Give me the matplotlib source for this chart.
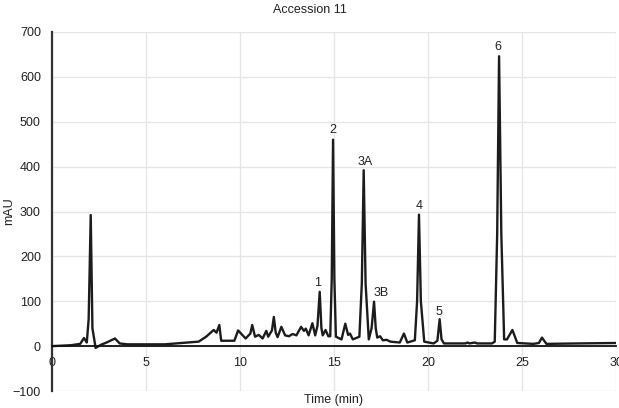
import matplotlib
matplotlib.use('Agg')
import matplotlib.pyplot as plt

plt.rcParams['font.family'] = ['Liberation Sans', 'DejaVu Sans']

# Chromatogram trace: time (min), signal (mAU)
time_min = [
    0.0, 1.0, 1.5, 1.70, 1.85, 1.95, 2.06, 2.15, 2.32, 2.6, 2.9, 3.35, 3.6, 4.0,
    6.0, 7.8, 8.2, 8.6, 8.75, 8.9, 9.0, 9.7, 9.9, 10.3, 10.55, 10.65, 10.8,
    11.0, 11.2, 11.4, 11.5, 11.7, 11.8, 11.9, 12.0, 12.2, 12.4, 12.6, 12.8,
    13.0, 13.25, 13.4, 13.5, 13.65, 13.85, 14.0, 14.12, 14.24, 14.33, 14.4,
    14.55, 14.7, 14.8, 14.88, 14.95, 15.02, 15.1, 15.4, 15.6, 15.75, 15.85,
    16.0, 16.35, 16.48, 16.58, 16.68, 16.85, 17.0, 17.13, 17.22, 17.3, 17.45,
    17.6, 17.8, 18.0, 18.5, 18.72, 18.9, 19.3, 19.42, 19.52, 19.62, 19.8,
    20.3, 20.5, 20.62, 20.72, 20.85, 22.0, 22.1, 22.2, 22.5, 22.6, 23.4,
    23.55, 23.68, 23.78, 23.9, 24.05, 24.2, 24.49, 24.75, 25.6, 25.9, 26.06,
    26.3, 28.0, 30.0,
]
signal_mau = [
    0, 2, 5, 18, 8, 60, 292, 40, -4, 3, 8, 17, 6, 4,
    4, 10, 21, 36, 30, 47, 12, 12, 35, 17, 28, 47, 21,
    25, 17, 34, 21, 35, 65, 30, 20, 43, 24, 22, 27,
    24, 43, 34, 39, 24, 51, 24, 45, 121, 40, 24,
    36, 22, 22, 150, 460, 150, 21, 15, 50, 25, 28,
    15, 21, 140, 392, 140, 15, 40, 99, 40, 19, 22,
    13, 14, 10, 8, 28, 8, 13, 100, 293, 100, 10,
    6, 12, 60, 15, 6, 6, 8, 6, 8, 6, 6,
    10, 250, 646, 250, 15, 15, 36, 7, 5, 7, 19,
    5, 6, 7,
]

peak_labels = ['1', '2', '3A', '3B', '4', '5', '6']
label_time = [14.15, 14.95, 16.65, 17.5, 19.52, 20.6, 23.7]
label_mau = [140, 481, 410, 118, 312, 76, 666]

fig = plt.figure(figsize=(6.19, 4.08), dpi=100)
ax = fig.add_axes([52 / 619, 17 / 408, 564 / 619, 359 / 408])

ax.plot(time_min, signal_mau, color='#1c1c1c', lw=1.7, zorder=3)

for lab, t, v in zip(peak_labels, label_time, label_mau):
    ax.text(t, v, lab, ha='center', va='center', fontsize=9, color='#222222')

ax.set_xlim(0, 30)
ax.set_ylim(-100, 700)
ax.set_xticks(range(0, 31, 5))
ax.set_yticks(range(-100, 701, 100))
ax.grid(True, color='#e6e6e6', lw=1)
ax.set_axisbelow(True)

for s in ['top', 'right']:
    ax.spines[s].set_visible(False)
ax.spines['bottom'].set_position(('data', 0))
ax.spines['bottom'].set_color('#111111')
ax.spines['bottom'].set_linewidth(1.3)
ax.spines['bottom'].set_zorder(4)
ax.spines['left'].set_color('#333333')
ax.spines['left'].set_linewidth(1.6)

ax.tick_params(axis='both', length=0, labelsize=9, colors='#222222')
ax.tick_params(axis='x', pad=8)
ax.tick_params(axis='y', pad=8)

ax.set_xlabel('Time (min)', fontsize=9, color='#222222')
ax.xaxis.set_label_coords(0.5, -0.008)
ax.set_ylabel('mAU', fontsize=9, color='#222222')
ax.yaxis.set_label_coords(-0.066, 0.5)
fig.text(310 / 619, 1 - 10 / 408, 'Accession 11', ha='center', va='center',
         fontsize=9, color='#222222')

fig.savefig('out.png', dpi=100)
